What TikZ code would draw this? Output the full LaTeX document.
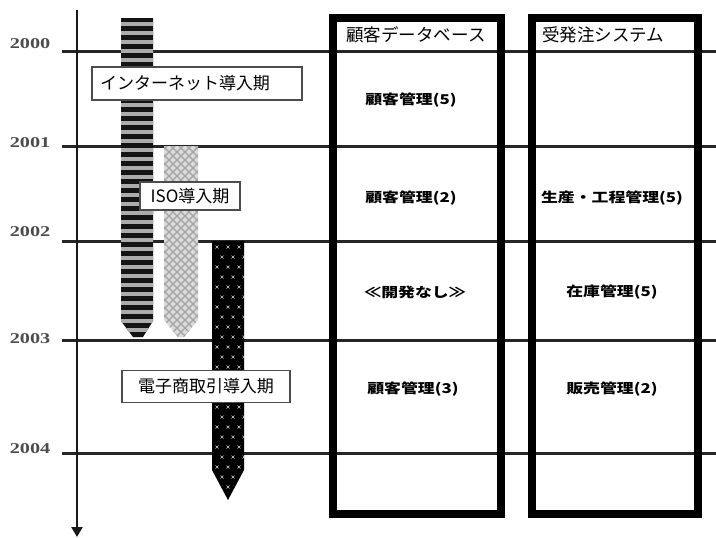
\documentclass[tikz,border=0pt]{standalone}
\usepackage{fontspec}
\usepackage{graphicx}
\setmainfont{Liberation Serif}
\newfontfamily\jp{Noto Sans CJK JP}
\usetikzlibrary{arrows.meta}
\newcommand{\myyear}[1]{\scalebox{1.35}[1]{#1}}
\newcommand{\mycell}[1]{\scalebox{1.25}[1]{#1}}
\begin{document}
\begin{tikzpicture}[x=1pt,y=-1pt,
  gridline/.style={line width=3pt,black!85},
  colbox/.style={draw=black,line width=8pt},
  yearlbl/.style={font=\fontsize{15}{15}\selectfont\bfseries,text=black!70,inner sep=0pt},
  periodlbl/.style={draw=black!70,line width=1.6pt,fill=white,font=\jp\fontsize{17}{17}\selectfont,inner sep=0pt},
  headlbl/.style={font=\jp\fontsize{17.5}{17.5}\selectfont,inner sep=0pt},
  celllbl/.style={font=\jp\bfseries\fontsize{13.5}{13.5}\selectfont,inner sep=0pt},
]
\useasboundingbox (0,0) rectangle (716,538);
\fill[white] (0,0) rectangle (716,538);

% horizontal year lines
\foreach \yy in {51,146,241,340,453} \draw[gridline] (62,\yy) -- (716,\yy);

% year labels
\node[yearlbl] (y2000) at (30,44) {\myyear{2000}};
\node[yearlbl] (y2001) at (30,143) {\myyear{2001}};
\node[yearlbl] (y2002) at (30,232) {\myyear{2002}};
\node[yearlbl] (y2003) at (30,339) {\myyear{2003}};
\node[yearlbl] (y2004) at (30,449) {\myyear{2004}};

% time axis
\coordinate (axtop) at (77,10);
\coordinate (axbot) at (77,537);
\draw[line width=2.6pt,black!90,-{Triangle[width=11pt,length=10pt]}] (axtop) -- (axbot);

% column boxes
\draw[colbox] (333,18) rectangle (501,514);
\draw[colbox] (532,18) rectangle (698,514);

% bar 1 : internet
\begin{scope}
\clip (121,18) -- (153,18) -- (153,321) -- (143,337) -- (133,337) -- (121,321) -- cycle;
\fill[black!92] (110,10) rectangle (160,345);
\foreach \k in {0,...,36} \fill[gray!65] (110,{22+9*\k}) rectangle (160,{26+9*\k});
\end{scope}

% bar 2 : ISO
\begin{scope}
\clip (164,146) -- (198,146) -- (198,320) -- (184,337) -- (178,337) -- (164,320) -- cycle;
\fill[gray!28] (150,140) rectangle (210,345);
\foreach \k in {-30,...,30} {
  \draw[gray!72,line width=1.1pt] ({181+8*\k},140) -- ++(210,210);
  \draw[gray!72,line width=1.1pt] ({181+8*\k},140) -- ++(-210,210);
}
\end{scope}

% bar 3 : e-commerce
\begin{scope}
\clip (212,241) -- (244,241) -- (244,470) -- (228,500) -- (212,470) -- cycle;
\fill[black] (200,235) rectangle (250,505);
\foreach \j in {0,...,25} {
  \foreach \i in {0,1,2} {
    \pgfmathsetmacro{\xx}{217+11*\i+mod(\j,2)*5}
    \pgfmathsetmacro{\yv}{247+10*\j}
    \draw[gray!40,line width=0.45pt] (\xx-1.5,\yv-1.5) -- (\xx+1.5,\yv+1.5);
    \draw[gray!40,line width=0.45pt] (\xx-1.5,\yv+1.5) -- (\xx+1.5,\yv-1.5);
  }
}
\end{scope}

% period labels
\node[periodlbl,minimum width=210pt,minimum height=33pt,text width=194pt,align=left] (pInet) at (197,83.5) {インターネット導入期};
\node[periodlbl,minimum width=100pt,minimum height=28pt] (pIso) at (190,196) {ISO導入期};
\node[periodlbl,minimum width=168pt,minimum height=32pt] (pEc) at (206,386.5) {電子商取引導入期};

% column headers
\node[headlbl] (h1) at (416,35) {顧客データベース};
\node[headlbl] (h2) at (603,35) {受発注システム};

% cells
\node[celllbl] (c11) at (411,100) {\mycell{顧客管理(5)}};
\node[celllbl] (c12) at (411,198) {\mycell{顧客管理(2)}};
\node[celllbl] (c13) at (415,292) {\mycell{≪開発なし≫}};
\node[celllbl] (c14) at (413,389) {\mycell{顧客管理(3)}};
\node[celllbl] (c22) at (612,198) {\mycell{生産・工程管理(5)}};
\node[celllbl] (c23) at (612,292) {\mycell{在庫管理(5)}};
\node[celllbl] (c24) at (612,389) {\mycell{販売管理(2)}};
\end{tikzpicture}
\end{document}
